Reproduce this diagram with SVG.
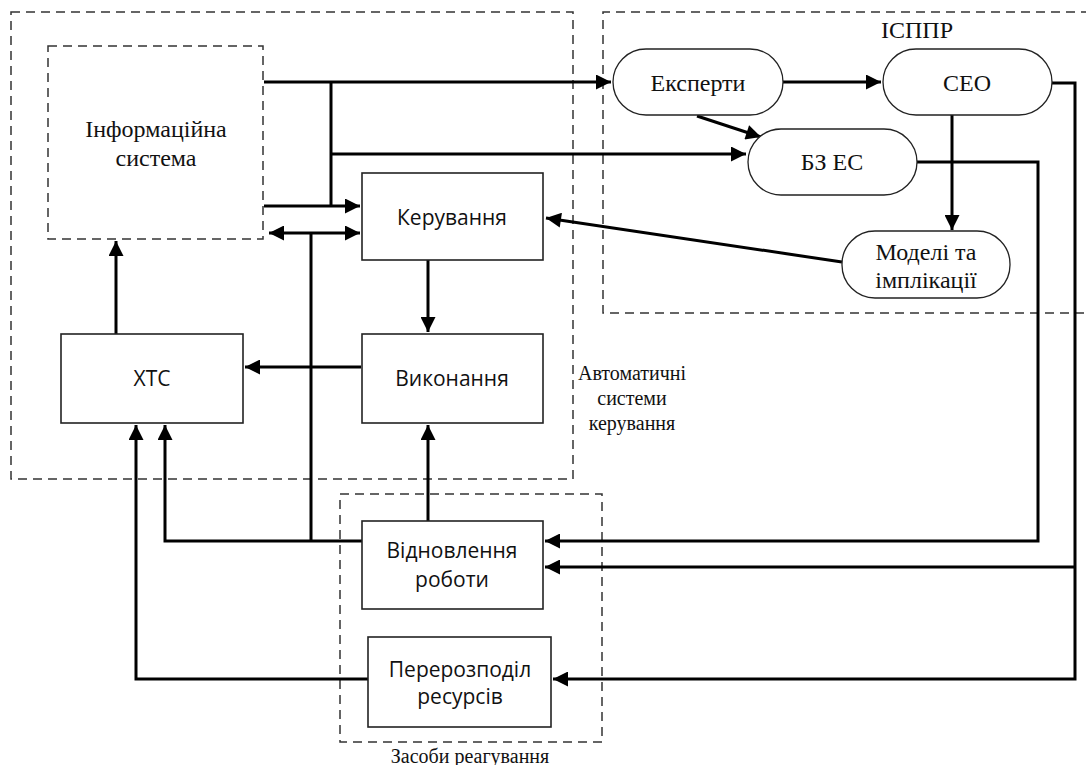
<svg xmlns="http://www.w3.org/2000/svg" width="1086" height="765" viewBox="0 0 1086 765">
<style>
.dash{fill:none;stroke:#333;stroke-width:1.5;stroke-dasharray:9,6}
.box{fill:#fff;stroke:#222;stroke-width:1.6}
.pill{fill:#fff;stroke:#222;stroke-width:1.3}
.c{fill:none;stroke:#000;stroke-width:3}
.sans{font-family:"Open Sans","Liberation Sans",sans-serif;font-size:21px;fill:#111;text-anchor:middle}
.serif{font-family:"Liberation Serif","Times New Roman",serif;font-size:24px;fill:#111;text-anchor:middle}
.lbl{font-family:"Liberation Serif","Times New Roman",serif;font-size:20px;fill:#111;text-anchor:middle}
.big{font-size:24px}
</style>
<defs>
<marker id="ar" viewBox="0 0 10 10" refX="10" refY="5" markerWidth="7" markerHeight="5" markerUnits="strokeWidth" orient="auto-start-reverse">
<path d="M0,0 L10,5 L0,10 z" fill="#000"/>
</marker>
</defs>
<rect width="1086" height="765" fill="#fff"/>

<g id="groups">
<rect id="acs" class="dash" x="11" y="12" width="562" height="467"/>
<path id="isppr" class="dash" d="M1090,12 L603,12 L603,313 L1090,313"/>
<rect id="zasoby" class="dash" x="340" y="494" width="262" height="248"/>
<text class="lbl" x="632" y="380">Автоматичні</text>
<text class="lbl" x="632" y="405">системи</text>
<text class="lbl" x="632" y="430">керування</text>
<text class="lbl big" x="917" y="38">ІСППР</text>
<text class="lbl" x="470" y="763">Засоби реагування</text>
</g>

<g id="connectors">
<path class="c" d="M264,82 L611,82" marker-end="url(#ar)"/>
<path class="c" d="M331,82 L331,206"/>
<path class="c" d="M331,154 L746,154" marker-end="url(#ar)"/>
<path class="c" d="M264,206 L360,206" marker-end="url(#ar)"/>
<path class="c" d="M269,233 L360,233" marker-start="url(#ar)" marker-end="url(#ar)"/>
<path class="c" d="M311,233 L311,541"/>
<path class="c" d="M428,260 L428,332" marker-end="url(#ar)"/>
<path class="c" d="M361,367 L245,367" marker-end="url(#ar)"/>
<path class="c" d="M116,334 L116,241" marker-end="url(#ar)"/>
<path class="c" d="M362,541 L165,541 L165,425" marker-end="url(#ar)"/>
<path class="c" d="M428,521 L428,425" marker-end="url(#ar)"/>
<path class="c" d="M368,679 L136,679 L136,425" marker-end="url(#ar)"/>
<path class="c" d="M783,82 L881,82" marker-end="url(#ar)"/>
<path class="c" d="M697,116 L761,137" marker-end="url(#ar)"/>
<path class="c" d="M952,115 L952,230" marker-end="url(#ar)"/>
<path class="c" d="M842,262 L546,218" marker-end="url(#ar)"/>
<path class="c" d="M917,162 L1038,162 L1038,541 L545,541" marker-end="url(#ar)"/>
<path class="c" d="M1052,83 L1075,83 L1075,679 L553,679" marker-end="url(#ar)"/>
<path class="c" d="M1075,567 L545,567" marker-end="url(#ar)"/>
</g>

<g id="info">
<rect class="dash" x="48" y="46" width="215" height="193"/>
<text class="serif" x="156" y="137">Інформаційна</text>
<text class="serif" x="156" y="166">система</text>
</g>
<g id="keruvannia">
<rect class="box" x="362" y="173" width="181" height="87"/>
<text class="sans" x="452" y="225">Керування</text>
</g>
<g id="vykonannia">
<rect class="box" x="362" y="334" width="181" height="89"/>
<text class="sans" x="452" y="386">Виконання</text>
</g>
<g id="xtc">
<rect class="box" x="61" y="334" width="182" height="89"/>
<text class="sans" x="152" y="386">ХТС</text>
</g>
<g id="vidnovlennia">
<rect class="box" x="362" y="521" width="181" height="88"/>
<text class="sans" x="452" y="558">Відновлення</text>
<text class="sans" x="452" y="587">роботи</text>
</g>
<g id="pererozpodil">
<rect class="box" x="368" y="637" width="183" height="90"/>
<text class="sans" x="460" y="677">Перерозподіл</text>
<text class="sans" x="460" y="704">ресурсів</text>
</g>
<g id="eksperty">
<rect class="pill" x="613" y="49" width="170" height="66" rx="33"/>
<text class="serif" x="698" y="91">Експерти</text>
</g>
<g id="ceo">
<rect class="pill" x="883" y="49" width="169" height="66" rx="33"/>
<text class="serif" x="967" y="91">СЕО</text>
</g>
<g id="bzes">
<rect class="pill" x="748" y="129" width="169" height="66" rx="33"/>
<text class="serif" x="832" y="170">БЗ ЕС</text>
</g>
<g id="modeli">
<rect class="pill" x="842" y="231" width="168" height="67" rx="33"/>
<text class="serif" x="926" y="260">Моделі та</text>
<text class="serif" x="926" y="288">імплікації</text>
</g>
</svg>
